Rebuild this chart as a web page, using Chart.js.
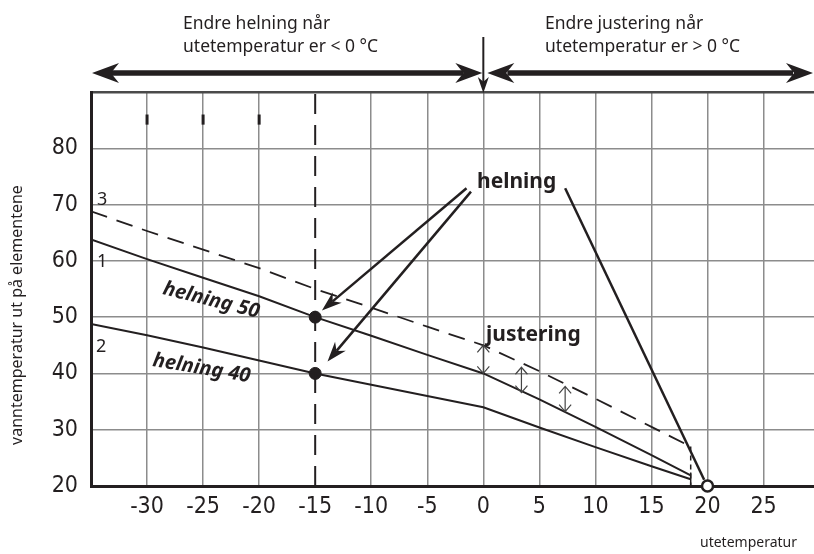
<!DOCTYPE html>
<html>
<head>
<meta charset="utf-8">
<script src="https://cdn.jsdelivr.net/npm/chart.js@4"></script>
<style>
  html, body { margin: 0; padding: 0; background: #fff; overflow: hidden; }
  canvas { display: block; }
</style>
</head>
<body>
<canvas id="chart" width="814" height="554" style="width:814px;height:554px"></canvas>
<script>
// outdoor temperature points (x) for the curves
const outdoorTemps = [-35, -30, -25, -20, -15, -10, -5, 0, 5, 10, 15, 18.5];
// curve 1: helning 50
const curve1 = [63.8, 60.3, 57.0, 53.7, 50.0, 46.7, 43.3, 40.0, 35.4, 30.5, 25.5, 21.9];
// curve 2: helning 40
const curve2 = [48.8, 46.8, 44.6, 42.3, 40.0, 38.0, 36.0, 34.0, 30.4, 26.9, 23.5, 21.2];
// curve 3: curve 1 shifted up (justering)
const curve3 = [68.8, 65.3, 62.0, 58.7, 55.0, 51.7, 48.3, 45.0, 40.4, 35.5, 30.5, 27.0];

const xTickValues = [-30, -25, -20, -15, -10, -5, 0, 5, 10, 15, 20, 25];
const yTickValues = [20, 30, 40, 50, 60, 70, 80, 90];

const markedPoints = [{ x: -15, y: 50 }, { x: -15, y: 40 }];
const pivotPoint = [{ x: 20, y: 20 }];

const INK = '#231f20';
const GRID = '#8c8c8c';

function pts(ys) {
    return outdoorTemps.map((x, i) => ({ x: x, y: ys[i] }));
}

// filled arrowhead with a concave back, tip at (x2,y2)
function arrowHead(ctx, x1, y1, x2, y2, len, half) {
    const a = Math.atan2(y2 - y1, x2 - x1);
    const c = Math.cos(a), s = Math.sin(a);
    ctx.beginPath();
    ctx.moveTo(x2, y2);
    ctx.lineTo(x2 - len * c - half * s, y2 - len * s + half * c);
    ctx.lineTo(x2 - len * 0.7 * c, y2 - len * 0.7 * s);
    ctx.lineTo(x2 - len * c + half * s, y2 - len * s - half * c);
    ctx.closePath();
    ctx.fill();
}

function arrow(ctx, x1, y1, x2, y2, width, len, half) {
    const a = Math.atan2(y2 - y1, x2 - x1);
    ctx.lineWidth = width;
    ctx.beginPath();
    ctx.moveTo(x1, y1);
    ctx.lineTo(x2 - len * 0.7 * Math.cos(a), y2 - len * 0.7 * Math.sin(a));
    ctx.stroke();
    arrowHead(ctx, x1, y1, x2, y2, len, half);
}

// thin double arrow with open chevron heads
function doubleArrow(ctx, x, yTop, yBot) {
    ctx.lineWidth = 1.2;
    ctx.beginPath();
    ctx.moveTo(x, yTop); ctx.lineTo(x, yBot);
    ctx.moveTo(x - 6, yTop + 7); ctx.lineTo(x, yTop); ctx.lineTo(x + 6, yTop + 7);
    ctx.moveTo(x - 6, yBot - 7); ctx.lineTo(x, yBot); ctx.lineTo(x + 6, yBot - 7);
    ctx.stroke();
}

const notes = {
    id: 'notes',
    afterDatasetsDraw(chart) {
        const ctx = chart.ctx;
        const xs = chart.scales.x, ys = chart.scales.y;
        const X = v => xs.getPixelForValue(v);
        const Y = v => ys.getPixelForValue(v);
        const area = chart.chartArea;
        ctx.save();
        ctx.strokeStyle = INK;
        ctx.fillStyle = INK;
        ctx.lineCap = 'butt';

        // short marks near the top
        ctx.lineWidth = 3;
        [-30, -25, -20].forEach(v => {
            ctx.beginPath();
            ctx.moveTo(X(v), Y(86)); ctx.lineTo(X(v), Y(84.2));
            ctx.stroke();
        });

        // top range arrows
        const yArr = 73;
        const rightEnd = chart.width - 1;
        ctx.lineWidth = 5.5;
        ctx.beginPath();
        ctx.moveTo(area.left + 20, yArr); ctx.lineTo(X(0) - 20, yArr);
        ctx.moveTo(X(0) + 24, yArr); ctx.lineTo(rightEnd - 20, yArr);
        ctx.stroke();
        arrowHead(ctx, area.left + 60, yArr, area.left + 1, yArr, 27, 10);
        arrowHead(ctx, X(-10), yArr, X(0) - 1, yArr, 27, 10);
        arrowHead(ctx, X(10), yArr, X(0) + 4, yArr, 27, 10);
        arrowHead(ctx, rightEnd - 60, yArr, rightEnd, yArr, 27, 10);
        // vertical arrow at 0
        ctx.lineWidth = 2;
        ctx.beginPath();
        ctx.moveTo(X(0), 37); ctx.lineTo(X(0), area.top - 10);
        ctx.stroke();
        arrowHead(ctx, X(0), 37, X(0), area.top + 1, 16, 5.5);

        // pointers from "helning"
        arrow(ctx, X(-1.5), Y(72.9), X(-14.4), Y(51.2), 2.5, 20, 7);
        arrow(ctx, X(-1.1), Y(72.3), X(-13.9), Y(42.1), 2.5, 20, 7);
        ctx.lineWidth = 2.5;
        ctx.beginPath();
        ctx.moveTo(X(7.3), Y(72.9)); ctx.lineTo(X(19.7), Y(21.1));
        ctx.stroke();

        // justering arrows
        ctx.strokeStyle = '#444';
        doubleArrow(ctx, X(0), Y(45), Y(40));
        doubleArrow(ctx, X(3.4), Y(41.1), Y(36.6));
        doubleArrow(ctx, X(7.3), Y(37.7), Y(33.2));

        // texts
        ctx.fillStyle = INK;
        ctx.textBaseline = 'alphabetic';
        ctx.textAlign = 'left';
        ctx.font = '17.5px "Noto Sans"';
        ctx.fillText('Endre helning når', 183, 29);
        ctx.fillText('utetemperatur er < 0 °C', 183, 52);
        ctx.fillText('Endre justering når', 545, 29);
        ctx.fillText('utetemperatur er > 0 °C', 545, 52);
        ctx.font = '18px "Noto Sans"';
        ctx.fillText('3', 97, 205);
        ctx.fillText('1', 97, 267);
        ctx.fillText('2', 96, 352);

        ctx.font = 'bold 21px "Noto Sans"';
        ctx.fillText('helning', 477, 188);
        ctx.fillText('justering', 486, 341);

        ctx.font = 'italic bold 20px "Noto Sans"';
        ctx.save();
        ctx.translate(162, 294);
        ctx.rotate(14 * Math.PI / 180);
        ctx.fillText('helning 50', 0, 0);
        ctx.restore();
        ctx.save();
        ctx.translate(152, 366);
        ctx.rotate(9.5 * Math.PI / 180);
        ctx.fillText('helning 40', 0, 0);
        ctx.restore();

        ctx.font = '14px "Noto Sans"';
        ctx.textAlign = 'right';
        ctx.fillText('utetemperatur', 797, 547);

        ctx.save();
        ctx.translate(22, 315);
        ctx.rotate(-Math.PI / 2);
        ctx.textAlign = 'center';
        ctx.font = '16px "Noto Sans"';
        ctx.fillText('vanntemperatur ut på elementene', 0, 0);
        ctx.restore();

        ctx.restore();
    }
};

const tickFont = { family: '"DejaVu Sans Condensed", "Liberation Sans Narrow", "Noto Sans"', size: 23 };

new Chart(document.getElementById('chart'), {
    type: 'line',
    data: {
        datasets: [
            {
                data: [{ x: -15, y: 20 }, { x: -15, y: 90 }],
                borderColor: INK, borderWidth: 2, borderDash: [20, 11], pointRadius: 0
            },
            { data: pts(curve1), borderColor: INK, borderWidth: 2, pointRadius: 0, tension: 0 },
            { data: pts(curve2), borderColor: INK, borderWidth: 2, pointRadius: 0, tension: 0 },
            { data: pts(curve3), borderColor: INK, borderWidth: 1.8, borderDash: [17, 10], pointRadius: 0 },
            {
                data: [{ x: 18.5, y: curve3[curve3.length - 1] }, { x: 18.5, y: 20 }],
                borderColor: INK, borderWidth: 1.5, borderDash: [5, 4], pointRadius: 0
            },
            {
                data: [{ x: 18.5, y: 22.4 }, { x: 18.5, y: 20 }],
                borderColor: INK, borderWidth: 1.5, pointRadius: 0
            },
            {
                data: markedPoints, showLine: false, pointRadius: 6,
                pointBackgroundColor: INK, pointBorderColor: INK
            },
            {
                data: pivotPoint, showLine: false, pointRadius: 5.5, pointBorderWidth: 2.5,
                pointBackgroundColor: '#fff', pointBorderColor: INK, clip: false
            }
        ]
    },
    options: {
        responsive: false,
        animation: false,
        devicePixelRatio: 1,
        layout: { autoPadding: false, padding: { top: 92, left: 0, right: 0, bottom: 0 } },
        plugins: { legend: { display: false }, tooltip: { enabled: false } },
        scales: {
            x: {
                type: 'linear', min: -35, max: 29.5,
                afterBuildTicks: s => { s.ticks = xTickValues.map(v => ({ value: v })); },
                afterFit: s => { s.height = 68; s.paddingRight = 0; },
                grid: {
                    drawTicks: false,
                    color: c => (c.tick && c.tick.value === -15) ? 'rgba(0,0,0,0)' : GRID,
                    lineWidth: 1.5
                },
                border: { display: true, color: INK, width: 3 },
                ticks: { font: tickFont, color: INK, padding: 7, maxRotation: 0, autoSkip: false }
            },
            y: {
                min: 20, max: 90,
                afterBuildTicks: s => { s.ticks = yTickValues.map(v => ({ value: v })); },
                afterFit: s => { s.width = 91; },
                grid: {
                    drawTicks: false,
                    color: c => (c.tick && c.tick.value === 90) ? '#4a4a4a' : GRID,
                    lineWidth: c => (c.tick && c.tick.value === 90) ? 2.5 : 1.5
                },
                border: { display: true, color: INK, width: 3 },
                ticks: {
                    font: tickFont, color: INK, padding: 13, autoSkip: false,
                    callback: v => (v === 90 ? '' : v)
                }
            }
        }
    },
    plugins: [notes]
});
</script>
</body>
</html>
